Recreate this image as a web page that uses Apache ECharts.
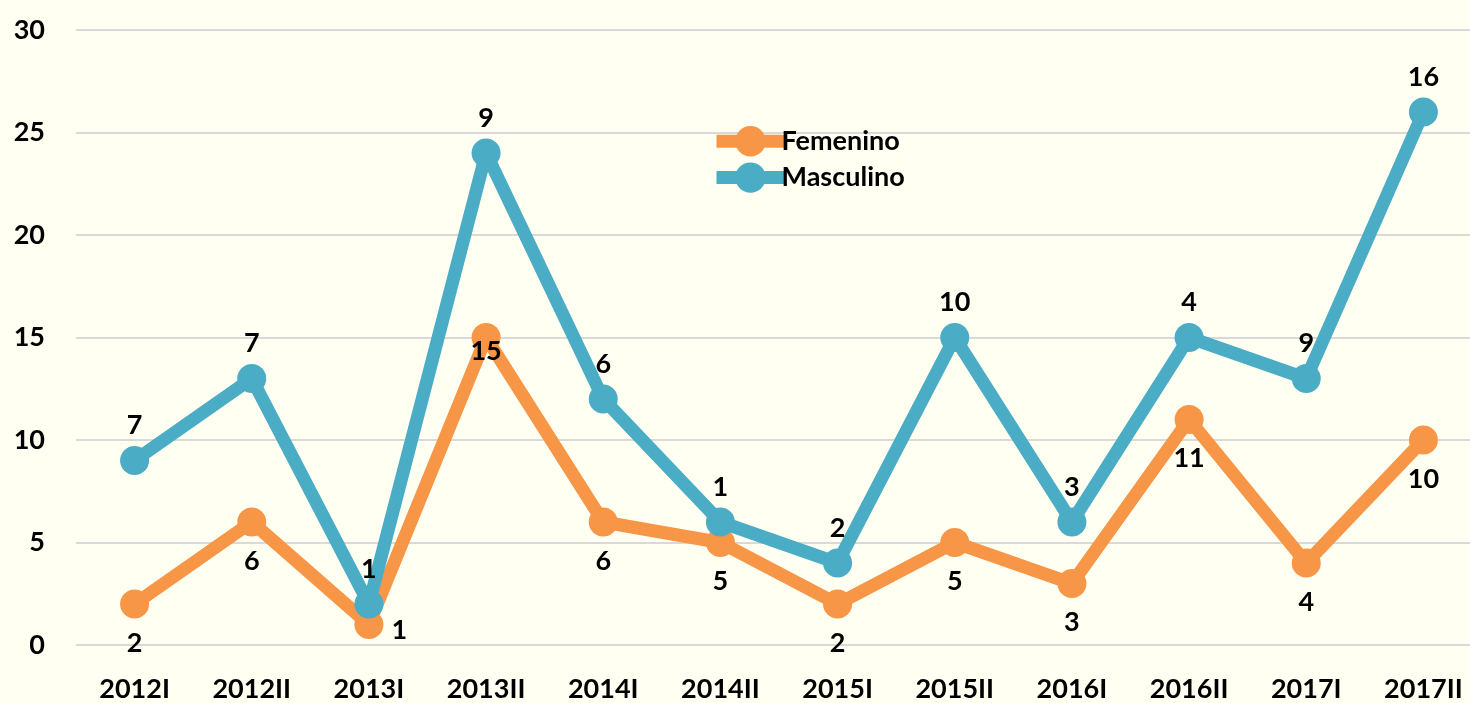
<!DOCTYPE html>
<html>
<head>
<meta charset="utf-8">
<title>Femenino / Masculino</title>
<script src="https://cdn.jsdelivr.net/npm/echarts@6/dist/echarts.min.js"></script>
<style>
  html, body { margin: 0; padding: 0; background: #fffff2; }
  #chart { width: 1470px; height: 703px; }
</style>
</head>
<body>
<div id="chart"></div>
<script>
// ── Data ──────────────────────────────────────────────────────────────────
const CATEGORIES = ['2012I', '2012II', '2013I', '2013II', '2014I', '2014II',
  '2015I', '2015II', '2016I', '2016II', '2017I', '2017II']
const FEMENINO = [2, 6, 1, 15, 6, 5, 2, 5, 3, 11, 4, 10]
const MASCULINO = [7, 7, 1, 9, 6, 1, 2, 10, 3, 4, 9, 16]
const Y_TICKS = [0, 5, 10, 15, 20, 25, 30]

const ORANGE = '#f79646'
const BLUE = '#4bacc6'
const FONT = 'Lato, "Open Sans", sans-serif'
const FS = 27

// a couple of Femenino labels sit off their usual spot
const femData = FEMENINO.map((v, i) => {
  if (i === 2) return { value: v, label: { position: 'right', distance: 8, offset: [0, 6] } }
  if (i === 3) return { value: v, label: { position: 'inside', offset: [0, 14] } }
  return v
})

const chart = echarts.init(document.getElementById('chart'))

chart.setOption({
  backgroundColor: '#fffff2',
  animation: false,
  textStyle: { fontFamily: FONT },
  grid: { left: 76, width: 1406, top: 30, bottom: 58, outerBoundsMode: 'none', containLabel: false },
  legend: {
    orient: 'vertical',
    left: 710,
    top: 126,
    padding: 0,
    itemWidth: 68,
    itemHeight: 38,
    itemGap: 6,
    lineStyle: { width: 13 },
    textStyle: { fontSize: FS, fontWeight: 'bold', color: '#000', fontFamily: FONT, padding: [0, 0, 0, -8] },
    data: ['Femenino', 'Masculino']
  },
  xAxis: {
    type: 'category',
    data: CATEGORIES,
    axisLine: { show: false },
    axisTick: { show: false },
    axisLabel: { margin: 31, fontSize: FS, fontWeight: 'bold', color: '#000', fontFamily: FONT, interval: 0 }
  },
  yAxis: {
    type: 'value',
    min: Y_TICKS[0],
    max: Y_TICKS[Y_TICKS.length - 1],
    interval: 5,
    axisLine: { show: false },
    axisTick: { show: false },
    axisLabel: { margin: 31, fontSize: FS, fontWeight: 'bold', color: '#000', fontFamily: FONT },
    splitLine: { lineStyle: { color: '#d9d9d9', width: 2 } }
  },
  series: [
    {
      name: 'Femenino',
      type: 'line',
      stack: 'total',
      data: femData,
      symbol: 'circle',
      symbolSize: 29,
      lineStyle: { color: ORANGE, width: 13 },
      itemStyle: { color: ORANGE },
      label: {
        show: true,
        position: 'bottom',
        distance: 11,
        fontSize: FS,
        fontWeight: 'bold',
        color: '#000',
        fontFamily: FONT
      }
    },
    {
      name: 'Masculino',
      type: 'line',
      stack: 'total',
      data: MASCULINO,
      symbol: 'circle',
      symbolSize: 29,
      lineStyle: { color: BLUE, width: 13 },
      itemStyle: { color: BLUE },
      label: {
        show: true,
        position: 'top',
        distance: 7,
        fontSize: FS,
        fontWeight: 'bold',
        color: '#000',
        fontFamily: FONT
      }
    }
  ]
})
</script>
</body>
</html>
